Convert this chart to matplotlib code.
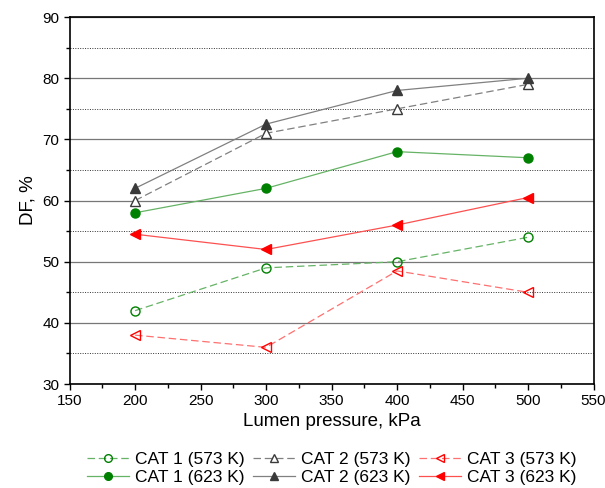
import matplotlib

matplotlib.use("Agg")
import matplotlib.pyplot as plt
from matplotlib.ticker import MultipleLocator

plt.rcParams["font.family"] = ["Liberation Sans", "DejaVu Sans"]

pressure = [200, 300, 400, 500]

cat1_573 = [42, 49, 50, 54]
cat2_573 = [60, 71, 75, 79]
cat3_573 = [38, 36, 48.5, 45]
cat1_623 = [58, 62, 68, 67]
cat2_623 = [62, 72.5, 78, 80]
cat3_623 = [54.5, 52, 56, 60.5]

GREEN = "#008000"
GREY = "#3a3a3a"
RED = "#ff0000"

fig = plt.figure(figsize=(6.05, 4.88), dpi=100)
ax = fig.add_axes([0.115, 0.213, 0.866, 0.752])

ax.yaxis.set_major_locator(MultipleLocator(10))
ax.yaxis.set_minor_locator(MultipleLocator(5))
ax.xaxis.set_major_locator(MultipleLocator(50))
ax.xaxis.set_minor_locator(MultipleLocator(25))
ax.grid(axis="y", which="major", color="#777777", linewidth=0.9, linestyle="-")
ax.grid(axis="y", which="minor", color="#333333", linewidth=0.7, linestyle=(0, (1, 1.5)))
ax.set_axisbelow(True)

dash = (0, (6, 3))
lines = [
    (cat1_573, "CAT 1 (573 K)", "o", GREEN, "#66b366", "none", dash),
    (cat1_623, "CAT 1 (623 K)", "o", GREEN, "#66b366", GREEN, "-"),
    (cat2_573, "CAT 2 (573 K)", "^", GREY, "#808080", "white", dash),
    (cat2_623, "CAT 2 (623 K)", "^", GREY, "#808080", GREY, "-"),
    (cat3_573, "CAT 3 (573 K)", "<", RED, "#ff7070", "none", dash),
    (cat3_623, "CAT 3 (623 K)", "<", RED, "#ff5050", RED, "-"),
]
for vals, label, marker, mcolor, lcolor, face, ls in lines:
    ax.plot(pressure, vals, color=lcolor, linestyle=ls, linewidth=0.9,
            marker=marker, markersize=6.5, markeredgecolor=mcolor,
            markerfacecolor=face, markeredgewidth=1.0, label=label)

ax.set_xlim(150, 550)
ax.set_ylim(30, 90)
ax.tick_params(which="both", direction="out", labelsize=11, right=False, top=False)
ax.tick_params(which="major", length=4, width=1)
ax.tick_params(which="minor", length=3, width=1)
for sp in ax.spines.values():
    sp.set_linewidth(1.2)

ax.set_xlabel("Lumen pressure, kPa", fontsize=13.5, labelpad=3)
ax.set_ylabel("DF, %", fontsize=13.5)

ax.legend(loc="upper center", bbox_to_anchor=(0.5, -0.165), ncol=3, frameon=False,
          fontsize=12.5, handlelength=2.4, columnspacing=0.5, handletextpad=0.35,
          labelspacing=0.2, borderaxespad=0, markerscale=0.85)

fig.savefig("out.png", dpi=100)
